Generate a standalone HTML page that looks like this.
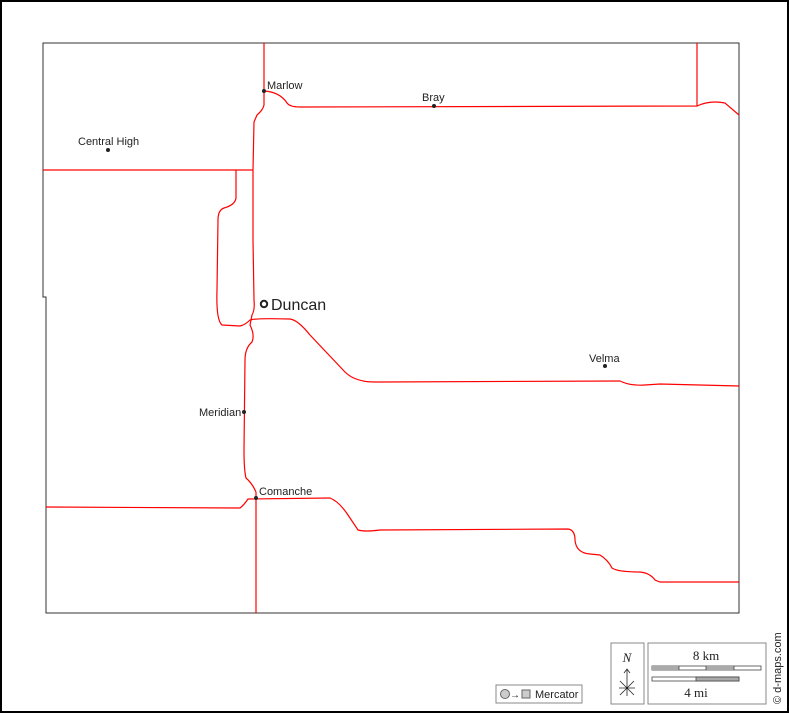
<!DOCTYPE html>
<html><head><style>
body{margin:0;background:#fff}
svg{display:block}
text{font-family:"Liberation Sans",sans-serif;fill:#222}
text.serif{font-family:"Liberation Serif",serif}
</style></head><body>
<svg width="789" height="713" viewBox="0 0 789 713" xmlns="http://www.w3.org/2000/svg">
<rect x="1" y="1" width="787" height="711" fill="#fff" stroke="#000" stroke-width="2"/>
<polygon points="43,43 739,43 739,613 46,613 46,297 43,297" fill="#fff" stroke="#333" stroke-width="1"/>
<g fill="none" stroke="#f00" stroke-width="1.2">
<path d="M264,43 L264,105 Q263,110 257,115 L254,122 L253,170"/>
<path d="M264,91 Q280,92 287,103 Q290,107 300,107 L697,106 L697,43"/>
<path d="M697,106 Q710,100 725,103 L739,115"/>
<path d="M43,170 L253,170"/>
<path d="M236,170 L236,198 Q235,205 224,208 Q218,210 218,220 L217,290 Q216,320 222,325 L240,326 Q245,325 250,320 Q256,318 290,319 Q298,320 310,335 L345,372 Q355,382 375,382 L620,381 Q630,386 645,385 L660,384 L739,386"/>
<path d="M253,170 L253,240 L254,300 Q255,310 252,315 L250,325 Q255,335 252,342 Q245,348 245,360 L244,450 Q244,470 246,478 Q252,483 256,492"/>
<path d="M46,507 L240,508 Q244,505 248,499 L330,498 Q340,502 350,518 L358,530 Q365,532 380,530 L568,529 Q575,530 575,540 Q576,553 590,554 L600,555 Q608,560 612,568 Q618,572 640,572 Q650,573 655,580 L660,582 L739,582"/>
<path d="M256,492 L256,613"/>
</g>
<g fill="#222">
<circle cx="264" cy="91" r="2"/><circle cx="434" cy="106" r="2"/><circle cx="108" cy="150" r="2"/>
<circle cx="605" cy="366" r="2"/><circle cx="244" cy="412" r="2"/><circle cx="256" cy="498" r="2"/>
</g>
<circle cx="264" cy="304" r="3.2" fill="#fff" stroke="#222" stroke-width="2"/>
<g font-size="11">
<text x="267" y="89">Marlow</text>
<text x="422" y="101">Bray</text>
<text x="78" y="145">Central High</text>
<text x="589" y="362">Velma</text>
<text x="199" y="416">Meridian</text>
<text x="259" y="495">Comanche</text>
</g>
<text x="271" y="310" font-size="16">Duncan</text>
<rect x="496" y="685" width="86" height="18" fill="#fff" stroke="#888"/>
<circle cx="505" cy="694" r="4.5" fill="#ccc" stroke="#666"/>
<text x="510" y="698" font-size="10">→</text>
<rect x="522" y="690" width="8" height="8" fill="#ccc" stroke="#666"/>
<text x="535" y="698" font-size="11" fill="#444">Mercator</text>
<rect x="611" y="643" width="33" height="61" fill="#fff" stroke="#888"/>
<text class="serif" x="627" y="662" font-size="13" font-style="italic" text-anchor="middle">N</text>
<g stroke="#222" fill="none" stroke-width="0.8"><path d="M627,670 L627,696 M624,673 L627,669 L630,673 M620,681 L634,695 M634,681 L620,695 M619,688 L635,688"/></g>
<rect x="648" y="643" width="118" height="61" fill="#fff" stroke="#888"/>
<text class="serif" x="706" y="660" font-size="13" text-anchor="middle">8 km</text>
<rect x="652" y="666" width="109" height="4" fill="#fff" stroke="#444" stroke-width="0.8"/>
<rect x="652" y="666" width="27" height="4" fill="#aaa"/><rect x="706" y="666" width="28" height="4" fill="#aaa"/>
<path d="M679,666 L679,670 M706,666 L706,670 M734,666 L734,670" stroke="#444" stroke-width="0.8"/>
<rect x="652" y="677" width="87" height="4" fill="#fff" stroke="#444" stroke-width="0.8"/>
<rect x="696" y="677" width="43" height="4" fill="#aaa" stroke="#444" stroke-width="0.8"/>
<text class="serif" x="696" y="697" font-size="13" text-anchor="middle">4 mi</text>
<text transform="translate(781,704) rotate(-90)" font-size="11" fill="#444">© d-maps.com</text>
</svg>
</body></html>
